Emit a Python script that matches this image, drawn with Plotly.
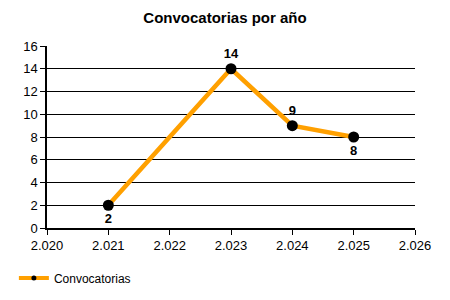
import plotly.graph_objects as go

years = [2021, 2023, 2024, 2025]
values = [2, 14, 9, 8]
label_pos = ["bottom center", "top center", "top center", "bottom center"]
series_name = "Convocatorias"
title = "Convocatorias por año"

font_family = "Liberation Sans, Arial, sans-serif"
orange = "#FFA000"

fig = go.Figure()
fig.add_trace(go.Scatter(
    x=years, y=values, name=series_name,
    mode="lines+markers+text",
    line=dict(color=orange, width=4.5),
    marker=dict(color="black", size=11),
    text=[str(v) for v in values],
    textposition=label_pos,
    textfont=dict(family=font_family, size=13, color="black", weight="bold"),
    cliponaxis=False,
    showlegend=False,
))
# legend entry with a smaller marker, as in the reference
fig.add_trace(go.Scatter(
    x=[None], y=[None], name=series_name, mode="lines+markers",
    line=dict(color=orange, width=4), marker=dict(color="black", size=5),
    showlegend=True,
))

fig.update_layout(
    width=450, height=300,
    margin=dict(l=47, r=35, t=46, b=72, autoexpand=False),
    paper_bgcolor="white", plot_bgcolor="white",
    separators=",.",
    font=dict(family=font_family, size=12, color="black"),
    title=dict(text="<b>" + title + "</b>", x=0.5, xanchor="center", y=0.94, yanchor="middle",
               font=dict(size=15, family=font_family, color="black")),
    showlegend=True,
    legend=dict(orientation="h", x=-0.09, xanchor="left", y=-0.275, yanchor="middle",
                font=dict(size=12), itemwidth=30, bgcolor="rgba(0,0,0,0)"),
    xaxis=dict(range=[2020, 2026], tickmode="linear", tick0=2020, dtick=1, tickformat=",d",
               showgrid=False, zeroline=False, showline=True, linecolor="black", linewidth=1.5,
               ticks="outside", ticklen=5, tickcolor="black", tickfont=dict(size=13)),
    yaxis=dict(range=[0, 16], tickmode="linear", tick0=0, dtick=2,
               showgrid=True, gridcolor="black", gridwidth=1.2, zeroline=False,
               showline=True, linecolor="black", linewidth=1.5,
               ticks="outside", ticklen=5, tickcolor="black", tickfont=dict(size=13)),
)

fig.write_html("out.html")
